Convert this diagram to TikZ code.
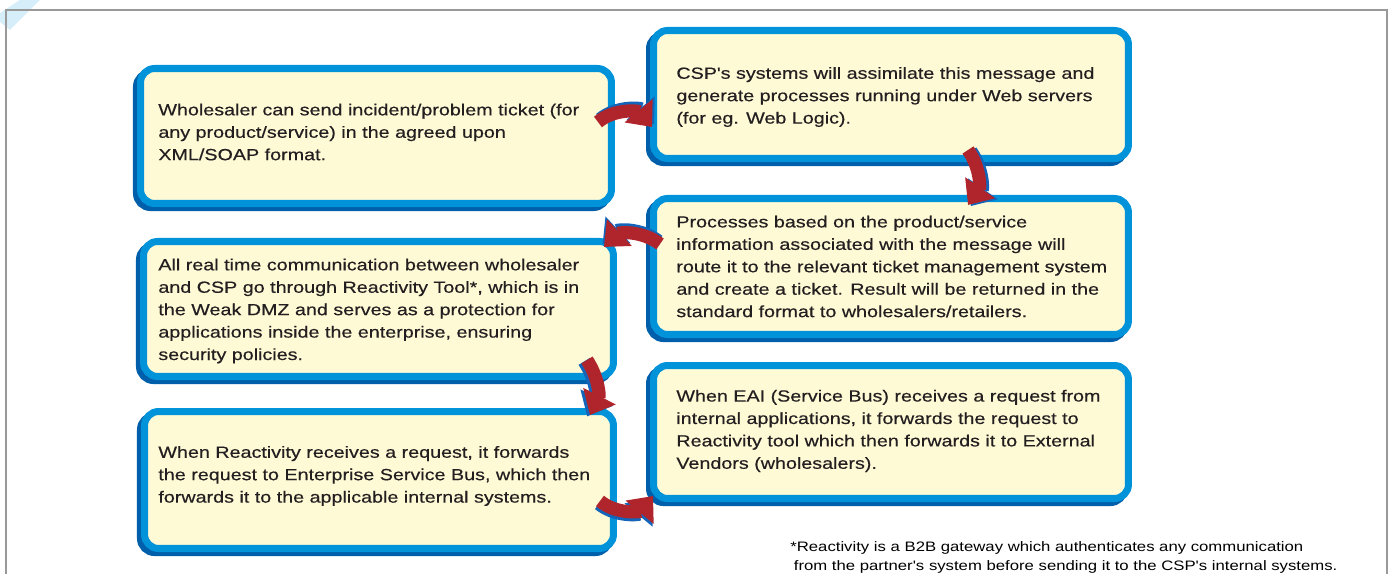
\documentclass[tikz,border=0pt]{standalone}
\usepackage{fontspec}
\usepackage{xcolor}
\usepackage{tikz}
\usetikzlibrary{arrows.meta,calc}
\newfontfamily\boxfont[FakeStretch=1.22,FakeBold=0.4]{Liberation Sans}
\newfontfamily\notefont[FakeStretch=1.22]{Liberation Sans}
\definecolor{boxblue}{RGB}{0,147,217}
\definecolor{boxshade}{RGB}{0,95,170}
\definecolor{boxfill}{RGB}{255,250,214}
\definecolor{arrowred}{RGB}{176,37,43}
\definecolor{arrowblue}{RGB}{20,100,185}
\definecolor{framegray}{RGB}{153,153,153}
\definecolor{cornerblue}{RGB}{214,237,250}
\definecolor{inkdark}{RGB}{35,31,32}

\begin{document}
\begin{tikzpicture}[x=0.02cm,y=0.02cm,
  stepbox/.style={draw=boxblue,fill=boxfill,line width=4pt,rounded corners=8pt,inner sep=0pt,
    preaction={draw=boxshade,fill=boxshade,transform canvas={shift={(-2.3pt,-2.3pt)}}}},
  boxtext/.style={font=\boxfont\fontsize{9.2}{12.76}\selectfont,text=inkdark,align=left,inner sep=0pt,anchor=west},
  notetext/.style={font=\notefont\fontsize{7.8}{10.8}\selectfont,text=black,align=left,inner sep=0pt,anchor=west},
  flowarrow/.style={draw=arrowred,line width=7.5pt,-{Triangle[width=20pt,length=12pt]}},
  flowshade/.style={draw=arrowblue,line width=7.5pt,-{Triangle[width=20pt,length=12pt]}}]
  \useasboundingbox (0,0) rectangle (1392,-574);
  \fill[cornerblue] (20,0) -- (40,0) -- (10,-30) -- (0,-22) -- (0,-13) -- cycle;
  \draw[framegray,line width=1.1pt] (6,-574) -- (6,-10) -- (1387,-10) -- (1387,-574);

  \node[stepbox,minimum width=9.42cm,minimum height=2.70cm] (b1) at (376,-136) {};
  \node[stepbox,minimum width=9.50cm,minimum height=2.56cm] (b2) at (891,-94.5) {};
  \node[stepbox,minimum width=9.50cm,minimum height=2.72cm] (b3) at (891,-266.5) {};
  \node[stepbox,minimum width=9.40cm,minimum height=2.70cm] (b4) at (378.5,-309) {};
  \node[stepbox,minimum width=9.38cm,minimum height=2.74cm] (b5) at (379,-480) {};
  \node[stepbox,minimum width=9.50cm,minimum height=2.66cm] (b6) at (891,-432) {};

  \node[boxtext] (t1) at ($(b1.west)+(21,4)$) {Wholesaler can send incident/problem ticket (for\\any product/service) in the agreed upon\\XML/SOAP format.};
  \node[boxtext] (t2) at ($(b2.west)+(26,-2.5)$) {CSP's systems will assimilate this message and\\generate processes running under Web servers\\(for eg. Web Logic).};
  \node[boxtext] (t3) at ($(b3.west)+(26,0)$) {Processes based on the product/service\\information associated with the message will\\route it to the relevant ticket management system\\and create a ticket. Result will be returned in the\\standard format to wholesalers/retailers.};
  \node[boxtext] (t4) at ($(b4.west)+(18,-2)$) {All real time communication between wholesaler\\and CSP go through Reactivity Tool*, which is in\\the Weak DMZ and serves as a protection for\\applications inside the enterprise, ensuring\\security policies.};
  \node[boxtext] (t5) at ($(b5.west)+(17,4)$) {When Reactivity receives a request, it forwards\\the request to Enterprise Service Bus, which then\\forwards it to the applicable internal systems.};
  \node[boxtext] (t6) at ($(b6.west)+(26,1)$) {When EAI (Service Bus) receives a request from\\internal applications, it forwards the request to\\Reactivity tool which then forwards it to External\\Vendors (wholesalers).};

  \draw[flowshade,transform canvas={shift={(1.2pt,1.6pt)}}] ($(b1.east)+(-17,14)$) to[bend left=45] ($(b2.west)+(2,-32.5)$);
  \draw[flowarrow] ($(b1.east)+(-17,14)$) to[bend left=45] ($(b2.west)+(2,-32.5)$);
  \draw[flowshade,transform canvas={shift={(1.6pt,-0.6pt)}}] ($(b2.south)+(77,12)$) to[bend left=35] ($(b3.north)+(77,-10)$);
  \draw[flowarrow] ($(b2.south)+(77,12)$) to[bend left=35] ($(b3.north)+(77,-10)$);
  \draw[flowshade,transform canvas={shift={(-0.8pt,1.6pt)}}] ($(b3.west)+(10,22.5)$) to[bend right=40] ($(b4.north east)+(-13,-9)$);
  \draw[flowarrow] ($(b3.west)+(10,22.5)$) to[bend right=40] ($(b4.north east)+(-13,-9)$);
  \draw[flowshade,transform canvas={shift={(-1.6pt,-0.8pt)}}] ($(b4.south east)+(-30,20)$) to[bend left=30] ($(b5.north east)+(-27,-7)$);
  \draw[flowarrow] ($(b4.south east)+(-30,20)$) to[bend left=30] ($(b5.north east)+(-27,-7)$);
  \draw[flowshade,transform canvas={shift={(-0.6pt,-1.6pt)}}] ($(b5.east)+(-17,-21)$) to[bend right=45] ($(b6.south west)+(3,6)$);
  \draw[flowarrow] ($(b5.east)+(-17,-21)$) to[bend right=45] ($(b6.south west)+(3,6)$);

  \node[notetext] (fn) at (790,-557.5) {*Reactivity is a B2B gateway which authenticates any communication\\\hspace*{2pt}from the partner's system before sending it to the CSP's internal systems.};
\end{tikzpicture}
\end{document}
